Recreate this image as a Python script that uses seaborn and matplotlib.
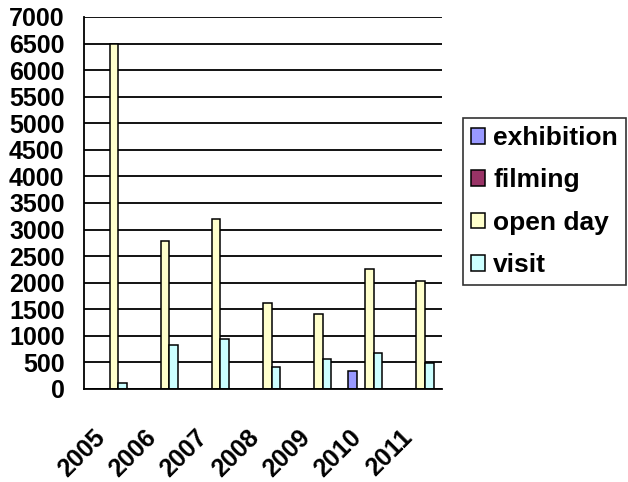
import matplotlib
matplotlib.use("Agg")
import matplotlib.pyplot as plt
import matplotlib.transforms as mtrans
import seaborn as sns
import pandas as pd
import numpy as np

years = ["2005", "2006", "2007", "2008", "2009", "2010", "2011"]
exhibition = [0, 0, 0, 0, 0, 330, 0]
filming = [0, 0, 0, 0, 0, 0, 0]
open_day = [6500, 2780, 3190, 1610, 1420, 2260, 2030]
visit = [110, 830, 940, 410, 560, 670, 490]
series_names = ["exhibition", "filming", "open day", "visit"]
colors = ["#9999FF", "#993366", "#FFFFCC", "#CCFFFF"]

rows = []
for name, vals in zip(series_names, [exhibition, filming, open_day, visit]):
    for y, v in zip(years, vals):
        rows.append({"year": y, "type": name, "value": v})
df = pd.DataFrame(rows)

sns.set_theme(style="white")
plt.rcParams["font.family"] = ["Liberation Sans", "DejaVu Sans"]
plt.rcParams["font.weight"] = "bold"
plt.rcParams["text.color"] = "black"
plt.rcParams["xtick.color"] = "black"
plt.rcParams["ytick.color"] = "black"

fig = plt.figure(figsize=(6.28, 4.82), dpi=100)
ax = fig.add_axes([84/628, 1-389/482, (442-84)/628, (389-17)/482])

sns.barplot(data=df, x="year", y="value", hue="type", hue_order=series_names,
            palette=colors, edgecolor="black", linewidth=1.1, width=0.67,
            ax=ax, legend=True, saturation=1)

ax.set_ylim(0, 7000)
ax.set_xlim(-0.5, len(years) - 0.5)
ax.set_yticks(np.arange(0, 7001, 500))
ax.yaxis.grid(True, color="black", linewidth=1.3)
ax.set_axisbelow(True)
ax.set_xlabel("")
ax.set_ylabel("")

for s in ["top", "right"]:
    ax.spines[s].set_visible(False)
for s in ["left", "bottom"]:
    ax.spines[s].set_color("black")
    ax.spines[s].set_linewidth(1.3)

ax.set_xticks(np.arange(len(years)))
ax.set_xticklabels(years, rotation=45, ha="right", va="center", rotation_mode="anchor",
                   fontsize=18, fontweight="bold", color="black")
ax.set_xticks(np.arange(-0.5, len(years)), minor=True)
ax.tick_params(axis="x", which="major", length=0, pad=32)
ax.tick_params(axis="x", which="minor", length=8, width=1.3, color="black", direction="out")
ax.tick_params(axis="y", length=8, width=1.3, color="black", direction="out", pad=6,
               labelsize=18, labelcolor="black")
for lab in ax.get_yticklabels():
    lab.set_fontweight("bold")
offset = mtrans.ScaledTranslation(-8/100, 0, fig.dpi_scale_trans)
for lab in ax.get_xticklabels():
    lab.set_transform(lab.get_transform() + offset)

handles, labels = ax.get_legend_handles_labels()
ax.get_legend().remove()
leg = fig.legend(handles, labels, loc="upper left",
                 bbox_to_anchor=(463/628, 1-118/482), frameon=True,
                 prop={"size": 19, "weight": "bold"}, handlelength=0.55,
                 handleheight=0.55, handletextpad=0.3, labelspacing=0.7,
                 borderpad=0.3, borderaxespad=0, fancybox=False, labelcolor="black")
leg.get_frame().set_edgecolor("black")
leg.get_frame().set_linewidth(1.2)

fig.savefig("out.png", dpi=100)
